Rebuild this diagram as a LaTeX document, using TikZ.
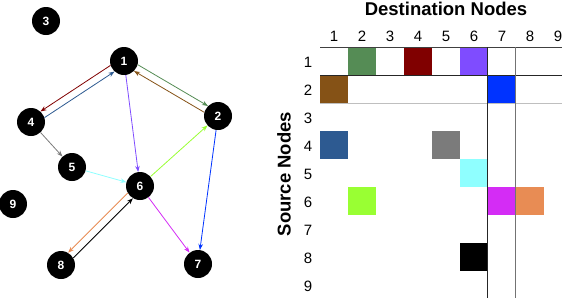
\documentclass[tikz,border=0pt]{standalone}
\usepackage{fontspec}
\setmainfont{Liberation Sans}
\usetikzlibrary{arrows.meta}

\definecolor{eGreen}{RGB}{85,140,85}
\definecolor{eRed}{RGB}{128,0,0}
\definecolor{ePurple}{RGB}{127,76,255}
\definecolor{eBrown}{RGB}{133,82,22}
\definecolor{eBlue}{RGB}{0,51,255}
\definecolor{eSteel}{RGB}{45,90,145}
\definecolor{eGray}{RGB}{123,123,123}
\definecolor{eCyan}{RGB}{143,255,255}
\definecolor{eLime}{RGB}{153,255,51}
\definecolor{eMagenta}{RGB}{212,44,245}
\definecolor{eOrange}{RGB}{232,140,84}

\tikzset{
  vertex/.style={circle, fill=black, text=white, minimum size=28pt, inner sep=0pt,
    font=\bfseries\fontsize{12}{12}\selectfont},
  edge/.style={line width=0.8pt, -{Stealth[length=6pt,width=4.5pt]}},
  idx/.style={font=\fontsize{15}{15}\selectfont},
  axis/.style={font=\bfseries\fontsize{18.5}{19}\selectfont}
}

\begin{document}
\begin{tikzpicture}[x=1pt, y=-1pt]
  \useasboundingbox (0,0) rectangle (562,298);
  % graph nodes
  \node[vertex] (n1) at (124,61) {1};
  \node[vertex] (n2) at (218,116) {2};
  \node[vertex] (n3) at (46,21) {3};
  \node[vertex] (n4) at (31,122) {4};
  \node[vertex] (n5) at (72,167) {5};
  \node[vertex] (n6) at (140,186) {6};
  \node[vertex] (n7) at (198,264) {7};
  \node[vertex] (n8) at (61,265) {8};
  \node[vertex] (n9) at (13,204) {9};
  % paired edges, shifted apart
  \draw[edge, eGreen] (n1.345) -- (n2.135);
  \draw[edge, eBrown] (n2.165) -- (n1.315);
  \draw[edge, eRed] (n1.198) -- (n4.48);
  \draw[edge, eSteel] (n4.18) -- (n1.228);
  \draw[edge, eOrange] (n6.210) -- (n8.60);
  \draw[edge, black] (n8.30) -- (n6.240);
  % single edges
  \draw[edge, ePurple] (n1) -- (n6);
  \draw[edge, eBlue] (n2) -- (n7);
  \draw[edge, eGray] (n4) -- (n5);
  \draw[edge, eCyan] (n5) -- (n6);
  \draw[edge, eLime] (n6) -- (n2);
  \draw[edge, eMagenta] (n6) -- (n7);

  % adjacency matrix, cell (row,col) at (320+28(col-1), 47+28(row-1))
  \foreach \r/\c/\col in {1/2/eGreen, 1/4/eRed, 1/6/ePurple, 2/1/eBrown, 2/7/eBlue,
      4/1/eSteel, 4/5/eGray, 5/6/eCyan, 6/2/eLime, 6/7/eMagenta, 6/8/eOrange, 8/6/black}
    \fill[\col] ({320+28*(\c-1)},{47+28*(\r-1)}) rectangle ++(28,28);
  \draw[black!75] (320,47) -- (562,47);
  \draw[black!85] (320,75) -- (562,75);
  \draw[black!25] (320,103) -- (562,103);
  \draw[black!85] (487.5,47) -- (487.5,298);
  \draw[black!55] (515.5,47) -- (515.5,298);
  % labels
  \foreach \i in {1,...,9} {
    \node[idx] (col\i) at ({334+28*(\i-1)},36) {\i};
    \node[idx] (row\i) at (308,{62+28*(\i-1)}) {\i};
  }
  \node[axis] (dest) at (446,9) {Destination Nodes};
  \node[axis, rotate=90] (src) at (284,174) {Source Nodes};
\end{tikzpicture}
\end{document}
